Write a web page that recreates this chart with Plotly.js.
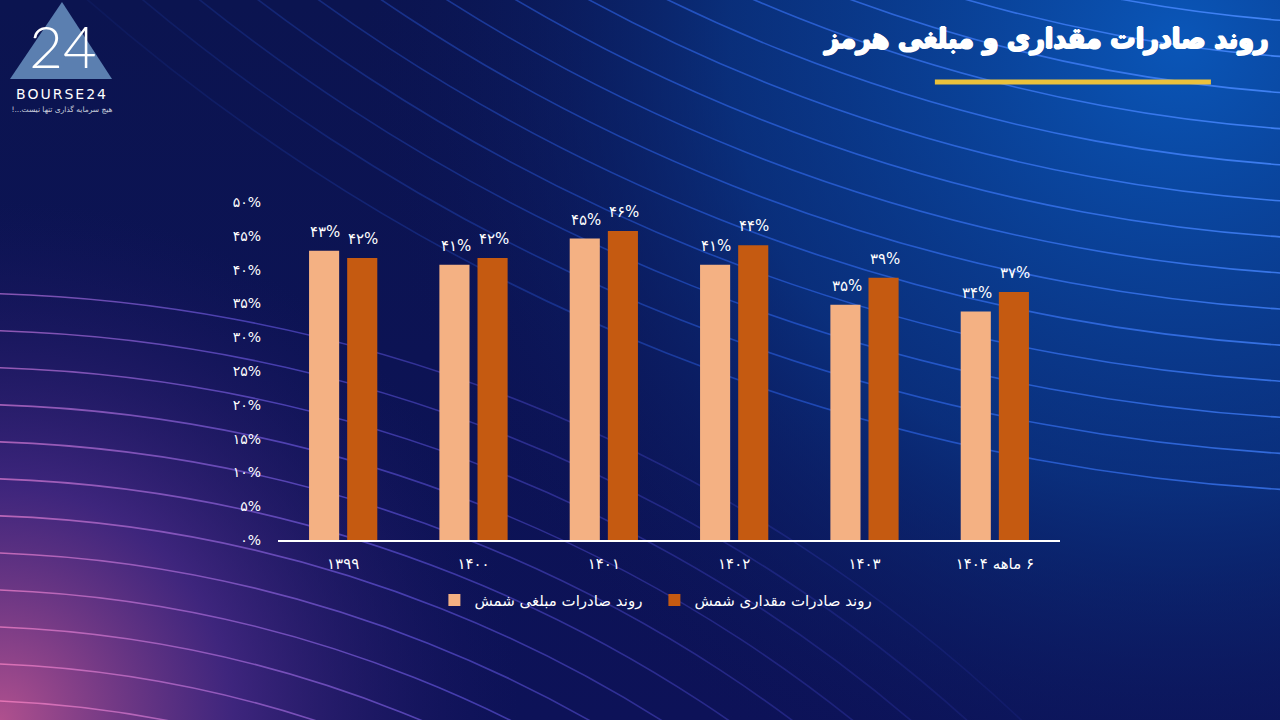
<!DOCTYPE html>
<html>
<head>
<meta charset="utf-8">
<script src="https://cdn.plot.ly/plotly-3.0.1.min.js"></script>
<style>
  html, body { margin: 0; padding: 0; width: 1280px; height: 720px; overflow: hidden; background: #0b1354; }
  #bg { position: absolute; left: 0; top: 0; }
  #chart { position: absolute; left: 0; top: 0; width: 1280px; height: 720px; }
  #logo { position: absolute; left: 0; top: 0; }
</style>
</head>
<body>
<svg id="bg" width="1280" height="720"></svg>
<div id="chart"></div>
<svg id="logo" width="130" height="120">
  <polygon points="62,2 112,79 10,79" fill="#5b7fb0"/>
  <text x="63" y="68" text-anchor="middle" font-family="Lato" font-weight="300" font-size="58" fill="#ffffff">24</text>
  <text x="62" y="99" text-anchor="middle" font-family="DejaVu Sans" font-size="14" letter-spacing="2" fill="#ffffff">BOURSE24</text>
  <text x="62" y="112" text-anchor="middle" direction="rtl" unicode-bidi="embed" font-family="DejaVu Sans" font-size="7.5" fill="#c9cfdc">هیچ سرمایه گذاری تنها نیست...!</text>
</svg>
<script>
// categories and series
const years = ["۱۳۹۹", "۱۴۰۰", "۱۴۰۱", "۱۴۰۲", "۱۴۰۳", "\u202B۶ ماهه ۱۴۰۴\u202C"];
const valueShare = [42.8, 40.7, 44.6, 40.7, 34.8, 33.8];   // روند صادرات مبلغی شمش
const volumeShare = [41.7, 41.7, 45.7, 43.6, 38.8, 36.7];  // روند صادرات مقداری شمش
const seriesNames = ["روند صادرات مبلغی شمش", "روند صادرات مقداری شمش"];
const seriesColors = ["#F4B183", "#C55A11"];
const yTicks = [0, 5, 10, 15, 20, 25, 30, 35, 40, 45, 50];
const chartTitle = "روند صادرات مقداری و مبلغی هرمز";

const FA = "۰۱۲۳۴۵۶۷۸۹";
function toFa(n) {
  return String(n).replace(/[0-9]/g, d => FA[+d]);
}
function pct(v) { return toFa(Math.round(v)) + "%"; }

// background: gradients + arcs
(function drawBg() {
  const svg = document.getElementById("bg");
  let html = `
  <defs>
    <radialGradient id="gTR" cx="1180" cy="40" r="820" gradientUnits="userSpaceOnUse">
      <stop offset="0" stop-color="#0a56b8"/>
      <stop offset="0.55" stop-color="#093a8c" stop-opacity="0.7"/>
      <stop offset="1" stop-color="#0b1354" stop-opacity="0"/>
    </radialGradient>
    <radialGradient id="gBL" cx="0" cy="720" r="520" gradientUnits="userSpaceOnUse">
      <stop offset="0" stop-color="#b0508e"/>
      <stop offset="0.45" stop-color="#4a2a86" stop-opacity="0.8"/>
      <stop offset="1" stop-color="#1a1660" stop-opacity="0"/>
    </radialGradient>
    <linearGradient id="gBase" x1="0" y1="0" x2="0" y2="720" gradientUnits="userSpaceOnUse">
      <stop offset="0" stop-color="#0b1450"/>
      <stop offset="1" stop-color="#0d1258"/>
    </linearGradient>
    <linearGradient id="sTR" x1="350" y1="560" x2="1280" y2="0" gradientUnits="userSpaceOnUse">
      <stop offset="0" stop-color="#2a55e0" stop-opacity="0"/>
      <stop offset="0.45" stop-color="#2f66f0" stop-opacity="0.55"/>
      <stop offset="1" stop-color="#4a8cff" stop-opacity="0.9"/>
    </linearGradient>
    <linearGradient id="sBL" x1="0" y1="720" x2="900" y2="250" gradientUnits="userSpaceOnUse">
      <stop offset="0" stop-color="#f07ab8" stop-opacity="0.9"/>
      <stop offset="0.4" stop-color="#6a5ae8" stop-opacity="0.6"/>
      <stop offset="1" stop-color="#3040d0" stop-opacity="0"/>
    </linearGradient>
  </defs>
  <rect width="1280" height="720" fill="url(#gBase)"/>
  <rect width="1280" height="720" fill="url(#gTR)"/>
  <rect width="1280" height="720" fill="url(#gBL)"/>`;
  for (let r = 1525; r <= 2000; r += 36) {
    html += `<circle cx="1400" cy="-1500" r="${r}" fill="none" stroke="url(#sTR)" stroke-width="1.6"/>`;
  }
  for (let r = 1150; r <= 1580; r += 37) {
    html += `<circle cx="-50" cy="1850" r="${r}" fill="none" stroke="url(#sBL)" stroke-width="1.6"/>`;
  }
  svg.innerHTML = html;
})();

const FONT = "DejaVu Sans";

const traces = [valueShare, volumeShare].map((vals, s) => ({
  type: "bar",
  name: seriesNames[s],
  x: years,
  y: vals,
  marker: { color: seriesColors[s] },
  hoverinfo: "skip"
}));

// value labels, placed through the axes from the same arrays
const labelAnnotations = [];
[valueShare, volumeShare].forEach((vals, s) => {
  vals.forEach((v, i) => {
    labelAnnotations.push({
      x: years[i], y: v, xref: "x", yref: "y",
      text: pct(v),
      showarrow: false,
      xshift: s === 0 ? -18 : 20,
      yshift: 19,
      yanchor: "middle",
      font: { family: FONT, size: 15, color: "#ffffff" }
    });
  });
});

const layout = {
  width: 1280,
  height: 720,
  margin: { l: 278, r: 220, t: 202, b: 180 },
  paper_bgcolor: "rgba(0,0,0,0)",
  plot_bgcolor: "rgba(0,0,0,0)",
  font: { family: FONT, color: "#ffffff", size: 15 },
  barmode: "group",
  bargap: 0.415,
  bargroupgap: 0.21,
  title: {
    text: chartTitle,
    font: {
      family: "DejaVu Sans Condensed, DejaVu Sans", size: 28, color: "#ffffff", weight: "bold",
      shadow: "1px 0 0 #fff, -1px 0 0 #fff, 0 1px 0 #fff, 0 -1px 0 #fff"
    },
    xref: "container", yref: "container",
    x: 0.991, xanchor: "right",
    y: 0.947, yanchor: "middle"
  },
  xaxis: {
    type: "category",
    showgrid: false,
    zeroline: false,
    showline: true,
    linecolor: "#ffffff",
    linewidth: 1.5,
    ticks: "",
    ticklabelstandoff: 9,
    tickfont: { family: FONT, size: 15, color: "#ffffff" }
  },
  yaxis: {
    range: [0, 50],
    showgrid: false,
    zeroline: false,
    showline: false,
    ticks: "",
    tickvals: yTicks,
    ticktext: yTicks.map(v => toFa(v) + "%"),
    ticklabelstandoff: 16,
    tickfont: { family: FONT, size: 14, color: "#ffffff" }
  },
  showlegend: true,
  legend: {
    orientation: "h",
    x: 0.2, xanchor: "left",
    y: -0.178, yanchor: "middle",
    bgcolor: "rgba(0,0,0,0)",
    font: { family: FONT, size: 15, color: "#ffffff" },
    traceorder: "normal",
    entrywidth: 175,
    entrywidthmode: "pixels"
  },
  annotations: labelAnnotations,
  shapes: [
    {
      type: "line", xref: "paper", yref: "paper",
      x0: 0.840, x1: 1.193, y0: 1.355, y1: 1.355,
      line: { color: "#EBC13C", width: 5 }
    }
  ]
};

Plotly.newPlot("chart", traces, layout, { displayModeBar: false, staticPlot: true });
</script>
</body>
</html>
